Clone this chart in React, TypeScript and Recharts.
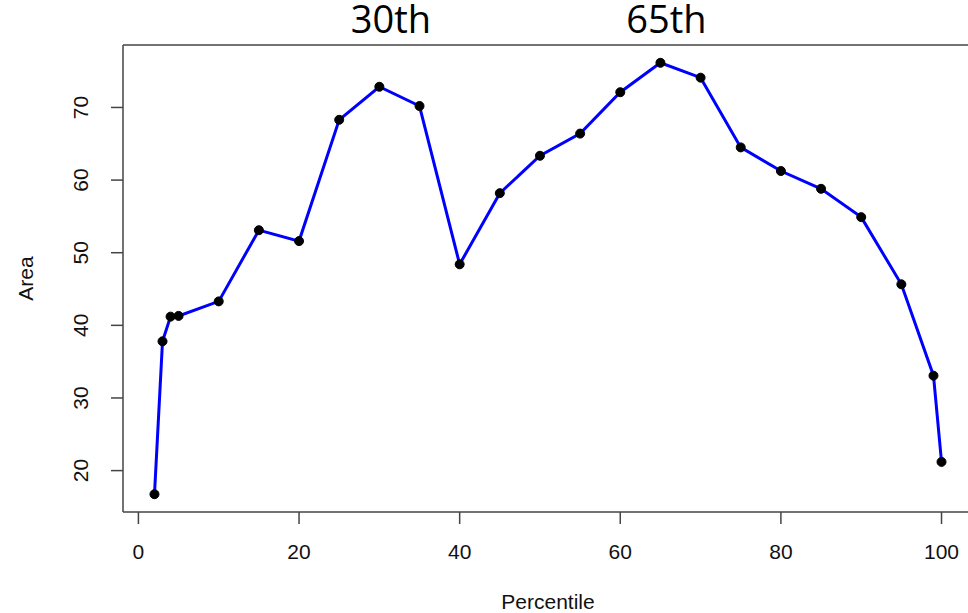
import { LineChart, Line, XAxis, YAxis } from 'recharts';

const percentiles = [2, 3, 4, 5, 10, 15, 20, 25, 30, 35, 40, 45, 50, 55, 60, 65, 70, 75, 80, 85, 90, 95, 99, 100];
const areas = [16.75, 37.8, 41.2, 41.3, 43.3, 53.1, 51.6, 68.3, 72.85, 70.2, 48.4, 58.2, 63.35, 66.4, 72.1, 76.15, 74.1, 64.5, 61.25, 58.8, 54.9, 45.65, 33.07, 21.2];
const xTicks = [0, 20, 40, 60, 80, 100];
const yTicks = [20, 30, 40, 50, 60, 70];
const highlights = ['30th', '65th'];

const data = percentiles.map((p, i) => ({ p, area: areas[i] }));

const axisFont = '"Liberation Sans", Arial, sans-serif';
const boxColor = '#444';

const XTick = (props: any) => {
  const { x, y, payload } = props;
  return (
    <text x={x} y={y + 28} dy="0.35em" textAnchor="middle" fontFamily={axisFont} fontSize={21} fill="#111">
      {payload.value}
    </text>
  );
};

const YTick = (props: any) => {
  const { x, y, payload } = props;
  const cx = x - 30;
  return (
    <text x={cx} y={y} dy="0.35em" textAnchor="middle" fontFamily={axisFont} fontSize={21} fill="#111"
      transform={`rotate(-90, ${cx}, ${y})`}>
      {payload.value}
    </text>
  );
};

// annotations above the plot
const noteStyle = {
  position: 'absolute' as const,
  top: 3,
  transform: 'translateX(-50%)',
  fontFamily: '"Open Sans", sans-serif',
  fontSize: 38,
  lineHeight: '30px',
  color: '#000',
  whiteSpace: 'nowrap' as const,
};

const App = () => {
  return (
    <div style={{ position: 'fixed', left: 8, top: 0, width: 960, height: 613, overflow: 'hidden', background: '#fff' }}>
      <LineChart width={980} height={613} data={data} margin={{ top: 43, right: 15, left: 0, bottom: 0 }}>
        <XAxis
          dataKey="p"
          type="number"
          domain={[-1.92, 103.92]}
          ticks={xTicks}
          interval={0}
          height={101}
          tickSize={12}
          tickMargin={0}
          tick={<XTick />}
          stroke={boxColor}
          strokeWidth={1.5}
          label={{
            content: () => (
              <text x={540} y={602} dy="0.35em" textAnchor="middle" fontFamily={axisFont} fontSize={21} fill="#111">
                Percentile
              </text>
            ),
          }}
        />
        <XAxis
          xAxisId="top"
          dataKey="p"
          type="number"
          orientation="top"
          domain={[-1.92, 103.92]}
          height={2}
          tick={false}
          tickLine={false}
          stroke={boxColor}
          strokeWidth={1.5}
        />
        <YAxis
          type="number"
          domain={[14.3, 78.6]}
          ticks={yTicks}
          interval={0}
          width={115}
          tickSize={12}
          tickMargin={0}
          tick={<YTick />}
          stroke={boxColor}
          strokeWidth={1.5}
          label={{
            content: () => (
              <text x={18} y={278.5} dy="0.35em" textAnchor="middle" fontFamily={axisFont} fontSize={21} fill="#111"
                transform="rotate(-90, 18, 278.5)">
                Area
              </text>
            ),
          }}
        />
        <Line
          dataKey="area"
          type="linear"
          stroke="#0000FF"
          strokeWidth={3}
          dot={{ r: 4.5, fill: '#000', stroke: '#000', strokeWidth: 1 }}
          activeDot={false}
          isAnimationActive={false}
        />
      </LineChart>
      <div style={{ ...noteStyle, left: 383 }}>{highlights[0]}</div>
      <div style={{ ...noteStyle, left: 658.5 }}>{highlights[1]}</div>
    </div>
  );
};

export default App;
